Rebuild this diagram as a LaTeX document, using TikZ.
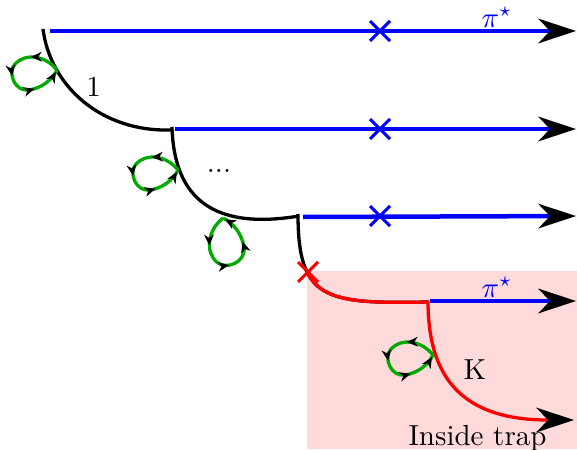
\documentclass[tikz,border=0pt]{standalone}
\usepackage{graphicx}
\usetikzlibrary{arrows.meta,decorations.markings}
\definecolor{loopgreen}{RGB}{0,170,0}
\definecolor{trapbg}{RGB}{255,218,218}
\newcommand{\bigtxt}[1]{\scalebox{2.9}{\fontsize{10}{12}\selectfont #1}}
\tikzset{
  lbl/.style={font=\normalsize, inner sep=0pt},
  track/.style={line width=3.3pt},
  beam/.style={blue, line width=4.5pt, -{Stealth[length=38pt,width=25pt,inset=12pt,line width=0pt,color=black]}},
  loopmarks/.style={decoration={markings,
    mark=at position 0.25 with {\arrow{Stealth[length=11pt,width=10pt,inset=3.5pt,line width=0pt,color=black]}},
    mark=at position 0.5 with {\arrow{Stealth[length=11pt,width=10pt,inset=3.5pt,line width=0pt,color=black]}},
    mark=at position 0.75 with {\arrow{Stealth[length=11pt,width=10pt,inset=3.5pt,line width=0pt,color=black]}},
    mark=at position 0.98 with {\arrow{Stealth[length=11pt,width=10pt,inset=3.5pt,line width=0pt,color=black]}}},
    postaction=decorate},
  pics/vloop/.style={code={
    \draw[loopgreen, line width=3.3pt, loopmarks]
      (0,0) .. controls (-12,-15) and (-32,-17) .. (-42,-6)
      .. controls (-50,3) and (-42,22) .. (-28,20)
      .. controls (-15,18) and (-5,10) .. (0,0);}},
  pics/xcross/.style={code={
    \draw[line width=3pt] (-10,-10) -- (10,10) (-10,10) -- (10,-10);}}
}
\begin{document}
\begin{tikzpicture}[x=1pt,y=-1pt]
\useasboundingbox (0,0) rectangle (577,449);
\fill[trapbg] (307,271) rectangle (577,449);

% named points
\coordinate (a0) at (43,29);
\coordinate (a1) at (171,130);
\coordinate (b0) at (172,127);
\coordinate (b1) at (299,216);
\coordinate (c0) at (298,214);
\coordinate (c1) at (429,302);
\coordinate (d0) at (428,301);
\coordinate (d1) at (543,420);
\coordinate (d2) at (574,420);

\coordinate (s1) at (50,31);  \coordinate (e1) at (576,31);
\coordinate (s2) at (175,129); \coordinate (e2) at (576,129);
\coordinate (s3) at (303,217); \coordinate (e3) at (576,216);
\coordinate (s4) at (430,301); \coordinate (e4) at (576,301);

% black tracks
\draw[track] (a0) .. controls (50,85) and (100,132) .. (a1);
\draw[track] (b0) .. controls (174,200) and (215,230) .. (b1);
\draw[track] (c0) .. controls (298,300) and (325,304) .. (c1);
\begin{scope}
  \clip (307,271) rectangle (577,449);
  \draw[track, red] (c0) .. controls (298,300) and (325,304) .. (c1);
\end{scope}
\draw[track, red, -{Stealth[length=38pt,width=25pt,inset=12pt,line width=0pt,color=black]}]
  (d0) .. controls (428,370) and (455,418) .. (d1) -- (d2);

% blue beams
\draw[beam] (s1) -- (e1);
\draw[beam] (s2) -- (e2);
\draw[beam] (s3) -- (e3);
\draw[beam] (s4) -- (e4);

% crosses
\pic[blue] at (380,31) {xcross};
\pic[blue] at (380,129) {xcross};
\pic[blue] at (380,216) {xcross};
\pic[red] at (308,272) {xcross};

% loops
\pic at (57,70) {vloop};
\pic at (178,170) {vloop};
\pic[rotate=90, scale=1.05] at (223,218) {vloop};
\pic at (433,355) {vloop};

% labels
\node[lbl, anchor=base] (one) at (93.5,97) {\bigtxt{1}};
\node[lbl, anchor=base] (dots) at (219,172.5) {\bigtxt{...}};
\node[lbl, blue, anchor=base] (pi1) at (497,27.5) {\bigtxt{$\pi^\star$}};
\node[lbl, blue, anchor=base] (pi2) at (497,297.5) {\bigtxt{$\pi^\star$}};
\node[lbl, anchor=base] (k) at (475,379) {\bigtxt{K}};
\node[lbl, anchor=base] (trap) at (477.5,445) {\bigtxt{Inside trap}};
\end{tikzpicture}
\end{document}
